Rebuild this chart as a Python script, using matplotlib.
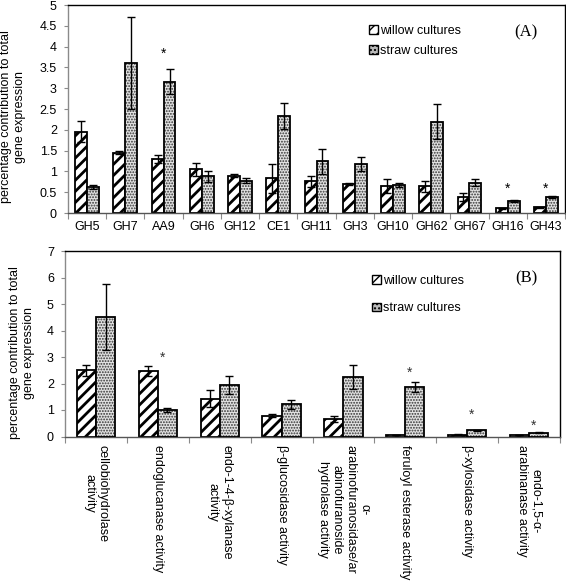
import matplotlib
matplotlib.use("Agg")
import matplotlib.pyplot as plt
from matplotlib.patches import Patch
import numpy as np

# ---------------------------- Dados ---------------------------------------- #
familiasA = ["GH5", "GH7", "AA9", "GH6", "GH12", "CE1", "GH11", "GH3",
             "GH10", "GH62", "GH67", "GH16", "GH43"]
salgueiroA = [1.95, 1.45, 1.30, 1.05, 0.90, 0.83, 0.76, 0.69, 0.65, 0.64, 0.39, 0.11, 0.14]
salgueiroA_err = [0.25, 0.03, 0.10, 0.15, 0.04, 0.35, 0.13, 0.02, 0.17, 0.14, 0.10, 0.02, 0.01]
palhaA = [0.62, 3.60, 3.15, 0.88, 0.78, 2.33, 1.24, 1.18, 0.67, 2.19, 0.73, 0.29, 0.39]
palhaA_err = [0.05, 1.10, 0.30, 0.14, 0.07, 0.32, 0.30, 0.17, 0.04, 0.42, 0.08, 0.02, 0.02]
estrelasA_x = [2, 11, 12]
estrelasA_y = [3.82, 0.58, 0.58]

atividadesB = ["cellobiohydrolase\nactivity",
               "endoglucanase activity",
               "endo-1-4-\u03b2-xylanase\nactivity",
               "\u03b2-glucosidase activity",
               "\u03b1-\narabinofuranosidase/ar\nabinofuranoside\nhydrolase activity",
               "feruloyl esterase activity",
               "\u03b2-xylosidase activity",
               "endo-1,5-\u03b1-\narabinanase activity"]
salgueiroB = [2.50, 2.47, 1.43, 0.79, 0.67, 0.05, 0.07, 0.05]
salgueiroB_err = [0.20, 0.20, 0.32, 0.05, 0.12, 0.01, 0.02, 0.01]
palhaB = [4.50, 1.01, 1.94, 1.22, 2.24, 1.86, 0.23, 0.14]
palhaB_err = [1.25, 0.08, 0.35, 0.17, 0.45, 0.18, 0.02, 0.02]
estrelasB_x = [1.07, 5.07, 6.07, 7.07]
estrelasB_y = [2.97, 2.42, 0.82, 0.40]
# --------------------------------------------------------------------------- #

plt.rcParams['font.family'] = ['Liberation Sans', 'DejaVu Sans']
plt.rcParams['font.size'] = 9

largura = 0.31
cinza = '#8a8a8a'
rotulo_y = "percentage contribution to total\ngene expression"

fig = plt.figure(figsize=(5.66, 5.83), dpi=100)
axA = fig.add_axes([68/566, 1-213/583, 497/566, 208/583])
axB = fig.add_axes([65/566, 1-436.5/583, 495/566, 185.5/583])


def barras(ax, salgueiro, s_err, palha, p_err, n):
    x = np.arange(n)
    with plt.rc_context({'hatch.linewidth': 2.0}):
        ax.bar(x - largura/2, salgueiro, largura, color='white',
               edgecolor='black', hatch='///', linewidth=1.3, zorder=2)
    with plt.rc_context({'hatch.linewidth': 0.9}):
        ax.bar(x + largura/2, palha, largura, color='#e2e2e2',
               edgecolor='#333333', hatch='......', linewidth=0, zorder=2)
    ax.bar(x + largura/2, palha, largura, fill=False,
           edgecolor='black', linewidth=1.3, zorder=3)
    ax.errorbar(x - largura/2, salgueiro, yerr=s_err, fmt='none',
                ecolor='black', elinewidth=1, capsize=3, capthick=1, zorder=4)
    ax.errorbar(x + largura/2, palha, yerr=p_err, fmt='none',
                ecolor='black', elinewidth=1, capsize=3, capthick=1, zorder=4)
    ax.set_xlim(-0.5, n - 0.5)
    ax.set_xticks(np.arange(n + 1) - 0.5)
    ax.set_xticklabels([])
    ax.set_xticks(x, minor=True)
    ax.tick_params(axis='x', which='major', length=4, direction='out', color=cinza)
    ax.tick_params(axis='x', which='minor', length=0)
    ax.tick_params(axis='y', length=3, direction='out', pad=5, color=cinza)
    for s in ax.spines.values():
        s.set_linewidth(1.0)
    ax.spines['left'].set_color(cinza)
    ax.spines['bottom'].set_color('#555555')


def legenda(ax, txt, x0, y0, esp, xt, yt):
    h = [Patch(facecolor='white', edgecolor='black', hatch='///', lw=1),
         Patch(facecolor='#bbbbbb', edgecolor='black', hatch='....', lw=1)]
    ax.legend(h, ["willow cultures", "straw cultures"], loc='upper left',
              bbox_to_anchor=(x0, y0), frameon=False, fontsize=9,
              handlelength=0.7, handleheight=0.7, handletextpad=0.15,
              labelspacing=esp, borderpad=0)
    ax.text(xt, yt, txt, transform=ax.transAxes, ha='right', va='center',
            family='Liberation Serif', fontsize=12)


# Painel (A)
barras(axA, salgueiroA, salgueiroA_err, palhaA, palhaA_err, len(familiasA))
axA.set_ylim(0, 5)
axA.set_yticks(np.arange(0, 5.01, 0.5))
axA.set_yticklabels(["0", "0.5", "1", "1.5", "2", "2.5", "3", "3.5", "4", "4.5", "5"])
axA.set_xticklabels(familiasA, minor=True)
axA.tick_params(axis='x', which='minor', pad=6)
for xs, ys in zip(estrelasA_x, estrelasA_y):
    axA.text(xs, ys, "*", ha='center', va='center', fontsize=10)
legenda(axA, "(A)", 0.594, 0.935, 0.65, 0.944, 0.87)

# Painel (B)
barras(axB, salgueiroB, salgueiroB_err, palhaB, palhaB_err, len(atividadesB))
axB.set_ylim(0, 7)
axB.set_yticks(np.arange(0, 8, 1))
axB.set_xticklabels(atividadesB, minor=True, rotation=270, ha='center',
                    va='top', multialignment='center')
axB.tick_params(axis='x', which='minor', pad=6)
for xs, ys in zip(estrelasB_x, estrelasB_y):
    axB.text(xs, ys, "*", ha='center', va='center', fontsize=10, color='#333333')
legenda(axB, "(B)", 0.608, 0.905, 1.25, 0.954, 0.854)

fig.text(13/566, 1 - 117/583, rotulo_y, rotation=90, ha='center', va='center',
         multialignment='center', fontsize=9)
fig.text(22/566, 1 - 353/583, rotulo_y, rotation=90, ha='center', va='center',
         multialignment='center', fontsize=9)

fig.savefig("out.png", dpi=100)
